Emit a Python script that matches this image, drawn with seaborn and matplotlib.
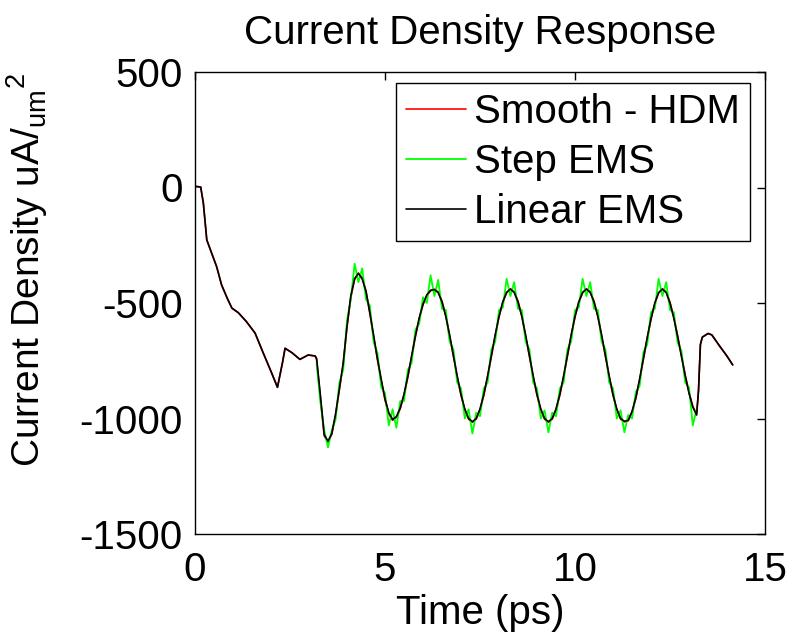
import numpy as np
import pandas as pd
import matplotlib
matplotlib.use("Agg")
import matplotlib.pyplot as plt
import seaborn as sns

# ---------------- data ----------------
# initial transient (all three models coincide here)
t_pre = [0.0, 0.15, 0.22, 0.31, 0.45, 0.57, 0.70, 0.85, 0.97, 1.14, 1.35, 1.58,
         1.80, 2.02, 2.17, 2.30, 2.37, 2.55, 2.76, 2.98, 3.10, 3.16]
v_pre = [5, 2, -68, -227, -290, -343, -422, -480, -522, -542, -580, -630,
         -718, -804, -865, -760, -696, -715, -744, -725, -728, -729]

# oscillating part, sampled every 0.1 ps from 3.2 to 13.2 ps
t_osc = np.round(np.linspace(3.2, 13.2, 101), 2)
linear_ems = [
    -740, -900, -1070, -1098, -1065, -980, -870, -760, -600, -470,
    -395, -372, -395, -450, -540, -640, -740, -830, -915, -975,
    -1004, -992, -955, -895, -818, -730, -642, -565, -505, -465,
    -445, -442, -455, -495, -558, -638, -727, -816, -896, -959,
    -1000, -1014, -1000, -959, -896, -816, -727, -638, -558, -495,
    -454, -440, -454, -495, -558, -638, -727, -816, -896, -959,
    -1000, -1014, -1000, -959, -896, -816, -727, -638, -558, -495,
    -454, -440, -454, -495, -558, -638, -727, -816, -896, -959,
    -1000, -1012, -1008, -970, -910, -830, -740, -650, -568, -500,
    -455, -440, -455, -500, -565, -645, -730, -815, -890, -950,
    -985]
smooth_hdm = [
    -745, -910, -1075, -1102, -1068, -985, -875, -765, -605, -475,
    -398, -370, -392, -448, -545, -645, -745, -835, -920, -980,
    -1008, -995, -958, -900, -822, -735, -646, -568, -508, -468,
    -447, -440, -452, -492, -555, -642, -731, -820, -900, -962,
    -1003, -1016, -1003, -962, -900, -820, -731, -642, -561, -497,
    -456, -438, -452, -492, -555, -642, -731, -820, -900, -962,
    -1003, -1016, -1003, -962, -900, -820, -731, -642, -561, -497,
    -456, -438, -452, -492, -555, -642, -731, -820, -900, -962,
    -1003, -1015, -1010, -974, -914, -834, -744, -654, -571, -503,
    -457, -438, -452, -497, -561, -641, -726, -811, -886, -947,
    -982]
step_ems = [
    -760, -930, -1050, -1125, -1050, -1005, -845, -790, -575, -485,
    -330, -410, -350, -485, -510, -670, -715, -865, -890, -1030,
    -960, -1040, -925, -925, -790, -760, -615, -590, -475, -500,
    -380, -470, -400, -525, -530, -668, -700, -845, -870, -1000,
    -960, -1065, -975, -990, -870, -845, -700, -668, -530, -520,
    -395, -470, -410, -525, -530, -668, -700, -845, -870, -1000,
    -965, -1060, -975, -990, -870, -845, -700, -668, -530, -520,
    -395, -470, -410, -525, -530, -668, -700, -845, -870, -1000,
    -965, -1060, -985, -1000, -885, -860, -712, -680, -540, -525,
    -395, -470, -410, -530, -540, -672, -705, -845, -865, -1030,
    -960]

# final relaxation after the last pulse
t_post = [13.25, 13.30, 13.35, 13.50, 13.60, 13.80, 14.00, 14.15]
v_post = [-880, -680, -648, -632, -638, -685, -730, -768]

series_names = ["Smooth - HDM", "Step EMS", "Linear EMS"]
series_colors = ["#ff0000", "#00ff00", "#000000"]

x_ticks = [0, 5, 10, 15]
y_ticks = [-1500, -1000, -500, 0, 500]

# ---------------- styling ----------------
sns.set_style("white")
plt.rcParams["font.family"] = ["Liberation Sans", "DejaVu Sans"]
plt.rcParams["mathtext.fontset"] = "custom"
plt.rcParams["mathtext.rm"] = "Liberation Sans"
plt.rcParams["mathtext.it"] = "Liberation Sans:italic"
plt.rcParams["mathtext.bf"] = "Liberation Sans:bold"
plt.rcParams["text.color"] = "black"
plt.rcParams["axes.labelcolor"] = "black"
plt.rcParams["xtick.color"] = "black"
plt.rcParams["ytick.color"] = "black"
FS = 29

fig = plt.figure(figsize=(7.91, 6.32), dpi=100)
ax = fig.add_axes([195 / 791, 1 - 534 / 632, 570 / 791, 462 / 632])

t_full = list(t_pre) + list(t_osc) + list(t_post)
df_red = pd.DataFrame({"t": t_full, "v": list(v_pre) + smooth_hdm + list(v_post)})
df_green = pd.DataFrame({"t": t_osc, "v": step_ems})
df_black = pd.DataFrame({"t": t_full, "v": list(v_pre) + linear_ems + list(v_post)})

sns.lineplot(data=df_red, x="t", y="v", ax=ax, color=series_colors[0], lw=1.2,
             label=series_names[0], estimator=None, sort=False)
sns.lineplot(data=df_green, x="t", y="v", ax=ax, color=series_colors[1], lw=1.3,
             label=series_names[1], estimator=None, sort=False)
sns.lineplot(data=df_black, x="t", y="v", ax=ax, color=series_colors[2], lw=1.2,
             label=series_names[2], estimator=None, sort=False)

ax.set_xlim(0, 15)
ax.set_ylim(-1500, 500)
ax.set_xticks(x_ticks)
ax.set_yticks(y_ticks)
ax.set_xticklabels([str(v) for v in x_ticks])
ax.set_yticklabels([str(v) for v in y_ticks])
ax.tick_params(axis="both", direction="in", top=True, right=True, length=6,
               width=1, labelsize=FS, colors="black")
ax.tick_params(axis="x", pad=12)
ax.tick_params(axis="y", pad=9)
for s in ax.spines.values():
    s.set_visible(True)
    s.set_color("black")
    s.set_linewidth(1.0)

ax.set_title("Current Density Response", fontsize=FS, pad=20, color="black")
ax.set_xlabel("Time (ps)", fontsize=FS, labelpad=4)
ax.set_ylabel(r"Current Density uA/$_{\mathrm{um}}{}^{2}$", fontsize=28)
ax.yaxis.set_label_coords(-0.255, 0.572)

leg = ax.legend(loc="upper right", bbox_to_anchor=(750 / 791, 1 - 82.7 / 632),
                bbox_transform=fig.transFigure, borderaxespad=0, fontsize=FS,
                frameon=True, fancybox=False, edgecolor="black", framealpha=1,
                handlelength=1.5, handletextpad=0.2, labelspacing=0.3,
                borderpad=0.25)
leg.get_frame().set_linewidth(1.0)
for txt in leg.get_texts():
    txt.set_color("black")

fig.savefig("out.png", dpi=100, facecolor="white")
